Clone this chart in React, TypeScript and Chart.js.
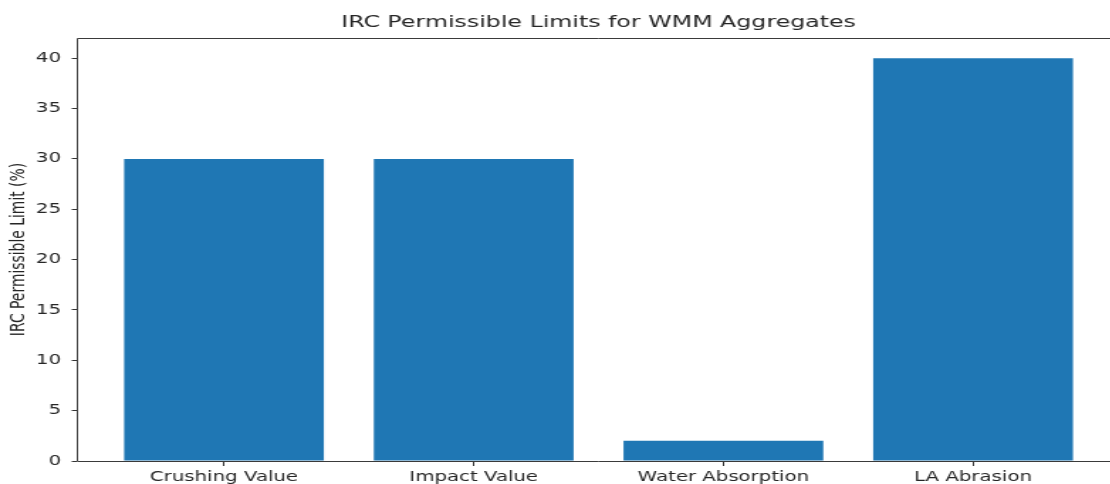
import React, { useEffect, useRef } from "react";
import { Chart, registerables } from "chart.js";

Chart.register(...registerables);

const categories = ["Crushing Value", "Impact Value", "Water Absorption", "LA Abrasion"];
const limits = [30, 30, 2, 40];
const yTicks = [0, 5, 10, 15, 20, 25, 30, 35, 40];
const chartTitle = "IRC Permissible Limits for WMM Aggregates";
const yTitle = "IRC Permissible Limit (%)";

const STRETCH = 1.42;
const W = 792;
const H = 484;
const FONT = "'DejaVu Sans', sans-serif";
const TEXT = "#262626";

const spinesPlugin = {
  id: "spines",
  afterDatasetsDraw(chart: any) {
    const { ctx, chartArea } = chart;
    const l = Math.round(chartArea.left) + 0.5;
    const r = chartArea.right;
    const t = Math.round(chartArea.top) + 0.5;
    const b = Math.round(chartArea.bottom) + 0.5;
    ctx.save();
    ctx.strokeStyle = "#3a3a3a";
    ctx.lineWidth = 1;
    ctx.beginPath();
    ctx.moveTo(r, t);
    ctx.lineTo(l, t);
    ctx.lineTo(l, b);
    ctx.lineTo(r, b);
    ctx.stroke();
    ctx.restore();
  },
};

export default function App() {
  const ref = useRef<HTMLCanvasElement | null>(null);

  useEffect(() => {
    document.documentElement.style.overflow = "hidden";
    document.body.style.overflow = "hidden";
    if (!ref.current) return;
    const chart = new Chart(ref.current, {
      type: "bar",
      data: {
        datasets: [
          {
            data: limits.map((v, i) => ({ x: i, y: v })),
            backgroundColor: "#1f77b4",
            borderWidth: 0,
            inflateAmount: 0,
            barPercentage: 0.8,
            categoryPercentage: 1,
          },
        ],
      },
      options: {
        animation: false,
        responsive: false,
        devicePixelRatio: 1,
        layout: { padding: { left: 0, right: 3, top: 0, bottom: 0 } },
        plugins: {
          legend: { display: false },
          tooltip: { enabled: false },
          title: {
            display: true,
            text: chartTitle,
            fullSize: false,
            color: TEXT,
            font: { family: FONT, size: 16.7, weight: "normal" },
            padding: { top: 13, bottom: 5 },
          },
        },
        scales: {
          x: {
            type: "linear",
            min: -0.59,
            max: 3.59,
            offset: false,
            border: { display: false },
            grid: {
              display: true,
              drawOnChartArea: false,
              drawTicks: true,
              tickLength: 5,
              tickColor: "#333",
              offset: false,
            },
            afterBuildTicks: (scale: any) => {
              scale.ticks = categories.map((_, i) => ({ value: i }));
            },
            afterFit: (scale: any) => {
              scale.height = 23;
            },
            ticks: {
              color: TEXT,
              font: { family: FONT, size: 13.9 },
              padding: 3,
              maxRotation: 0,
              autoSkip: false,
              callback: (v: any) => categories[Math.round(Number(v))] ?? "",
            },
          },
          y: {
            min: 0,
            max: 42,
            border: { display: false },
            grid: {
              display: true,
              drawOnChartArea: false,
              drawTicks: true,
              tickLength: 3.5,
              tickColor: "#333",
            },
            afterBuildTicks: (scale: any) => {
              scale.ticks = yTicks.map((v) => ({ value: v }));
            },
            afterFit: (scale: any) => {
              scale.width = 54;
            },
            ticks: {
              color: TEXT,
              font: { family: FONT, size: 13.9 },
              padding: 7.5,
              includeBounds: false,
            },
            title: {
              display: true,
              text: yTitle,
              color: TEXT,
              font: { family: FONT, size: 13.9 },
              padding: { top: 5.5, bottom: 0 },
            },
          },
        },
      },
      plugins: [spinesPlugin],
    });
    return () => chart.destroy();
  }, []);

  return (
    <div
      style={{
        position: "absolute",
        top: 0,
        left: 0,
        width: 1110,
        height: 484,
        overflow: "hidden",
        background: "#fff",
      }}
    >
      <div
        style={{
          width: W,
          height: H,
          transform: `scaleX(${STRETCH})`,
          transformOrigin: "0 0",
        }}
      >
        <canvas ref={ref} width={W} height={H} style={{ display: "block", width: W, height: H }} />
      </div>
    </div>
  );
}
